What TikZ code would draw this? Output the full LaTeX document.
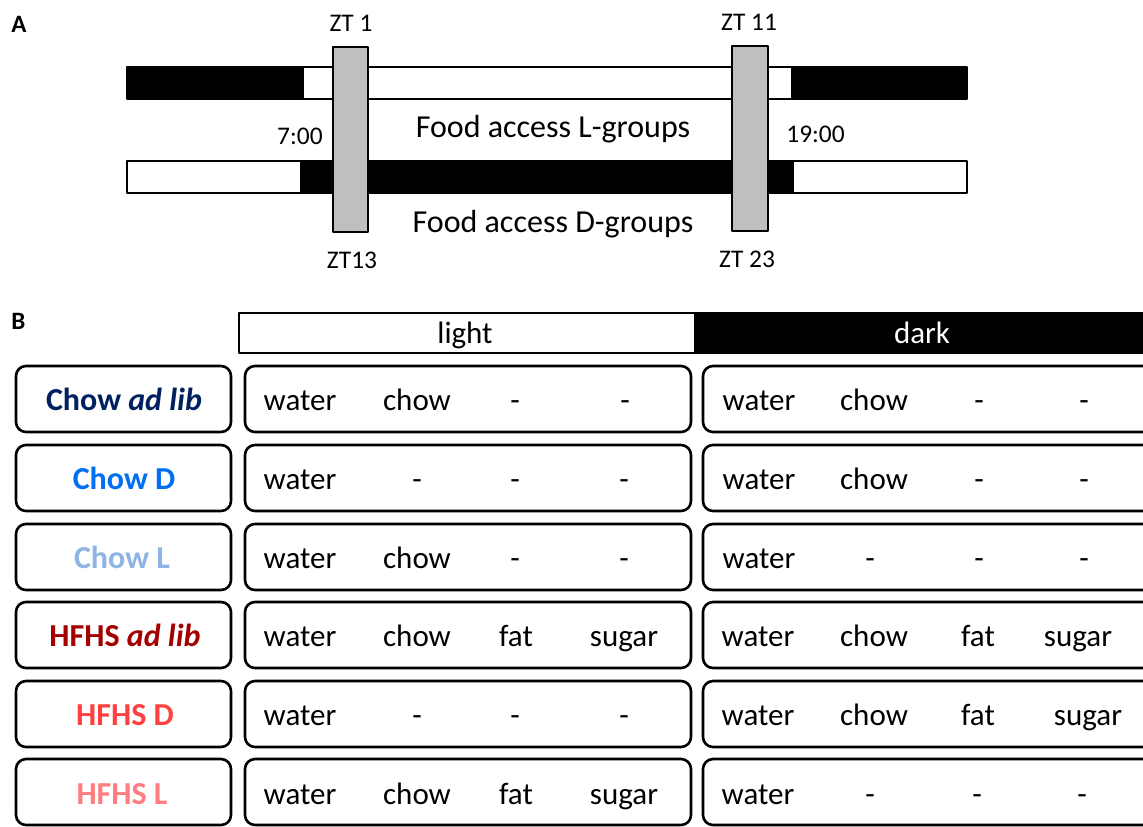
\documentclass[tikz,border=0pt]{standalone}
\usepackage{fontspec}
\setmainfont{Carlito}
\usepackage{tikz}
\usetikzlibrary{positioning}

\definecolor{chowadlib}{RGB}{0,32,96}
\definecolor{chowd}{RGB}{0,112,240}
\definecolor{chowl}{RGB}{141,180,226}
\definecolor{hfhsadlib}{RGB}{164,0,0}
\definecolor{hfhsd}{RGB}{255,64,64}
\definecolor{hfhsl}{RGB}{255,124,128}

\begin{document}
\begin{tikzpicture}[x=0.5pt,y=-0.5pt,line join=round]
\tikzstyle{bar}=[draw=black,line width=0.9pt]
\tikzstyle{ztbar}=[draw=black,fill=black!25,line width=0.9pt]
\tikzstyle{rowbox}=[draw=black,line width=1.3pt,rounded corners=5pt]
\tikzstyle{txt}=[inner sep=0pt,anchor=base,font=\fontsize{15.5pt}{18pt}\selectfont]
\tikzstyle{grp}=[txt,font=\fontsize{16pt}{19pt}\selectfont\bfseries]
\tikzstyle{zt}=[inner sep=0pt,anchor=base,font=\fontsize{12.7pt}{15pt}\selectfont]
\tikzstyle{panel}=[inner sep=0pt,anchor=base west,font=\fontsize{12.5pt}{15pt}\selectfont\bfseries]
\useasboundingbox (0,0) rectangle (1143,826);
\clip (0,0) rectangle (1143,826);

  % A
        \node[panel] (A) at (11,32) {A};

        \draw[bar,fill=black] (127,67) rectangle (303,99);
        \draw[bar,fill=white] (303,67) rectangle (792,99);
        \draw[bar,fill=black] (792,67) rectangle (967,99);
        \draw[bar,fill=white] (127,161) rectangle (301,193);
        \draw[bar,fill=black] (301,161) rectangle (793,193);
        \draw[bar,fill=white] (793,161) rectangle (967,193);

        \draw[ztbar] (333,47) rectangle (368,232);
        \draw[ztbar] (732,46) rectangle (768,231);

        \node[zt]                 (zt1)    at (351,31)   {ZT 1};
        \node[zt]                 (zt13)   at (352,268)  {ZT13};
        \node[zt]                 (zt11)   at (749,30)   {ZT 11};
        \node[zt]                 (zt23)   at (747,267)  {ZT 23};
        \node[zt,anchor=base east] (seven) at (323,144)  {7:00};
        \node[zt,anchor=base west] (nineteen) at (786,142) {19:00};
        \node[txt,font=\fontsize{16pt}{19pt}\selectfont] (Lgroups) at (553,137) {Food access L-groups};
        \node[txt,font=\fontsize{16pt}{19pt}\selectfont] (Dgroups) at (553,232) {Food access D-groups};

  % B
        \node[panel] (B) at (11,329) {B};

        \draw[bar,fill=white] (239,313) rectangle (695,353);
        \draw[bar,fill=black] (695,313) rectangle (1160,353);
        \node[txt]                (light)  at (465,343)  {light};
        \node[txt,text=white]     (dark)   at (922,343)  {dark};

        % row 1
        \draw[rowbox] (16,366) rectangle (231,432);
        \draw[rowbox] (245,366) rectangle (691,432);
        \draw[rowbox] (703,366) rectangle (1165,432);
        \node[grp,text=chowadlib] (g1)  at (124,410) {Chow \textit{ad lib}};
        \node[txt] (l1a) at (300,410) {water};
        \node[txt] (l1b) at (417,410) {chow};
        \node[txt] (l1c) at (515,410) {-};
        \node[txt] (l1d) at (625,410) {-};
        \node[txt] (d1a) at (759,410) {water};
        \node[txt] (d1b) at (874,410) {chow};
        \node[txt] (d1c) at (979,410) {-};
        \node[txt] (d1d) at (1084,410) {-};

        % row 2
        \draw[rowbox] (16,445) rectangle (231,511);
        \draw[rowbox] (245,445) rectangle (691,511);
        \draw[rowbox] (703,445) rectangle (1165,511);
        \node[grp,text=chowd] (g2)  at (124,489) {Chow D};
        \node[txt] (l2a) at (300,489) {water};
        \node[txt] (l2b) at (417,489) {-};
        \node[txt] (l2c) at (515,489) {-};
        \node[txt] (l2d) at (624,489) {-};
        \node[txt] (d2a) at (759,489) {water};
        \node[txt] (d2b) at (874,489) {chow};
        \node[txt] (d2c) at (979,489) {-};
        \node[txt] (d2d) at (1084,489) {-};

        % row 3
        \draw[rowbox] (16,524) rectangle (231,590);
        \draw[rowbox] (245,524) rectangle (691,590);
        \draw[rowbox] (703,524) rectangle (1165,590);
        \node[grp,text=chowl] (g3)  at (122,568) {Chow L};
        \node[txt] (l3a) at (300,568) {water};
        \node[txt] (l3b) at (417,568) {chow};
        \node[txt] (l3c) at (515,568) {-};
        \node[txt] (l3d) at (624,568) {-};
        \node[txt] (d3a) at (759,568) {water};
        \node[txt] (d3b) at (870,568) {-};
        \node[txt] (d3c) at (979,568) {-};
        \node[txt] (d3d) at (1084,568) {-};

        % row 4
        \draw[rowbox] (16,602) rectangle (231,668);
        \draw[rowbox] (245,602) rectangle (691,668);
        \draw[rowbox] (703,602) rectangle (1165,668);
        \node[grp,text=hfhsadlib] (g4)  at (125,646) {HFHS \textit{ad lib}};
        \node[txt] (l4a) at (300,646) {water};
        \node[txt] (l4b) at (417,646) {chow};
        \node[txt] (l4c) at (516,646) {fat};
        \node[txt] (l4d) at (624,646) {sugar};
        \node[txt] (d4a) at (758,646) {water};
        \node[txt] (d4b) at (874,646) {chow};
        \node[txt] (d4c) at (978,646) {fat};
        \node[txt] (d4d) at (1078,646) {sugar};

        % row 5
        \draw[rowbox] (16,681) rectangle (231,747);
        \draw[rowbox] (245,681) rectangle (691,747);
        \draw[rowbox] (703,681) rectangle (1165,747);
        \node[grp,text=hfhsd] (g5)  at (125,725) {HFHS D};
        \node[txt] (l5a) at (300,725) {water};
        \node[txt] (l5b) at (417,725) {-};
        \node[txt] (l5c) at (515,725) {-};
        \node[txt] (l5d) at (624,725) {-};
        \node[txt] (d5a) at (758,725) {water};
        \node[txt] (d5b) at (874,725) {chow};
        \node[txt] (d5c) at (978,725) {fat};
        \node[txt] (d5d) at (1088,725) {sugar};

        % row 6
        \draw[rowbox] (16,759) rectangle (231,825);
        \draw[rowbox] (245,759) rectangle (691,825);
        \draw[rowbox] (703,759) rectangle (1165,825);
        \node[grp,text=hfhsl] (g6)  at (122,804) {HFHS L};
        \node[txt] (l6a) at (300,804) {water};
        \node[txt] (l6b) at (417,804) {chow};
        \node[txt] (l6c) at (516,804) {fat};
        \node[txt] (l6d) at (624,804) {sugar};
        \node[txt] (d6a) at (758,804) {water};
        \node[txt] (d6b) at (870,804) {-};
        \node[txt] (d6c) at (977,804) {-};
        \node[txt] (d6d) at (1082,804) {-};
\end{tikzpicture}
\end{document}
